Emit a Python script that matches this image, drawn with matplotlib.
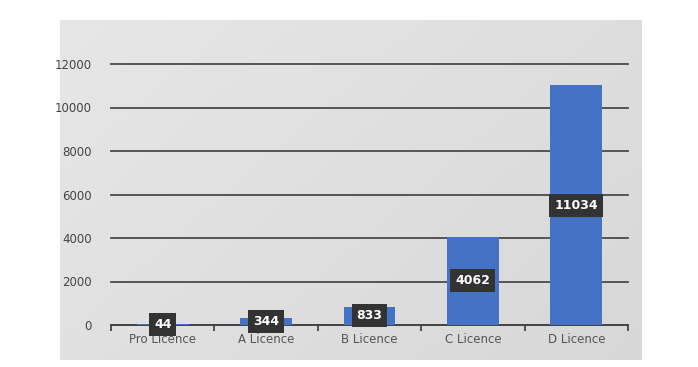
import matplotlib.pyplot as plt
import numpy as np

categories = ["Pro Licence", "A Licence", "B Licence", "C Licence", "D Licence"]
values = [44, 344, 833, 4062, 11034]
yticks = [0, 2000, 4000, 6000, 8000, 10000, 12000]

fig = plt.figure(figsize=(6.98, 3.67), dpi=100)
fig.patch.set_facecolor("white")

# grey gradient panel behind the chart
bg = fig.add_axes([60/698, 1 - 360/367, 582/698, 340/367])
gx, gy = np.meshgrid(np.linspace(0, 1, 200), np.linspace(0, 1, 200))
shade = 0.905 - 0.06 * (0.6 * gx + 0.4 * gy)
bg.imshow(np.dstack([shade] * 3), aspect="auto", extent=[0, 1, 0, 1], origin="upper")
bg.axis("off")

ax = fig.add_axes([111/698, 42/367, 517/698, (325 - 64)/367])
ax.patch.set_alpha(0)
x = np.arange(len(categories))
ax.bar(x, values, width=0.5, color="#4472C4", zorder=3)
for xi, v in zip(x, values):
    ax.text(xi, v / 2, str(v), ha="center", va="center", color="white", fontsize=9,
            fontweight="bold", zorder=4,
            bbox=dict(boxstyle="square,pad=0.4", fc="#333333", ec="none"))

ax.set_xlim(-0.5, len(categories) - 0.5)
ax.set_ylim(0, 12000)
ax.set_yticks(yticks)
ax.set_yticklabels([str(t) for t in yticks])
ax.yaxis.grid(True, color="#4a4a4a", linewidth=1.3, zorder=1)
for gl in ax.get_ygridlines():
    gl.set_clip_on(False)
ax.set_xticks(x)
ax.set_xticklabels(categories)
ax.set_xticks(np.arange(-0.5, len(categories)), minor=True)
ax.tick_params(axis="x", which="major", length=0, labelsize=8.5, labelcolor="#555555", pad=6)
ax.tick_params(axis="x", which="minor", length=4, width=1.3, color="#444444", direction="out")
ax.tick_params(axis="y", length=0, labelsize=8.5, labelcolor="#444444", pad=14)
for s in ["top", "right", "left"]:
    ax.spines[s].set_visible(False)
ax.spines["bottom"].set_color("#444444")
ax.spines["bottom"].set_linewidth(1.3)

fig.savefig("out.png", dpi=100)
